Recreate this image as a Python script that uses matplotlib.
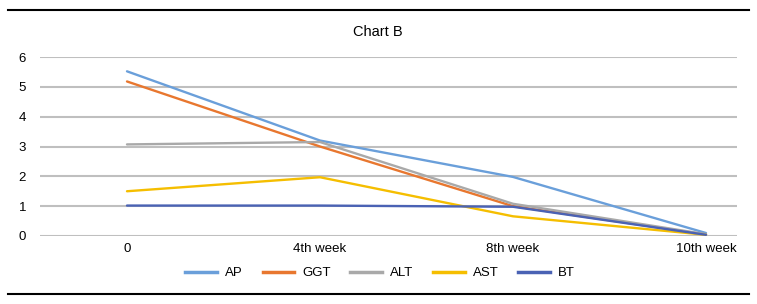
import matplotlib
matplotlib.use("Agg")
import matplotlib.pyplot as plt
from matplotlib.lines import Line2D

categories = ["0", "4th week", "8th week", "10th week"]
AP = [5.52, 3.2, 1.98, 0.1]
GGT = [5.18, 3.0, 1.0, 0.05]
ALT = [3.07, 3.15, 1.08, 0.06]
AST = [1.5, 1.97, 0.66, 0.04]
BT = [1.02, 1.02, 0.98, 0.04]
series_names = ["AP", "GGT", "ALT", "AST", "BT"]
colors = ["#6A9FDA", "#E8772F", "#A9A9A9", "#F5BE00", "#4A62B4"]

plt.rcParams['font.family'] = ['Liberation Sans Narrow', 'Liberation Sans', 'DejaVu Sans']

fig = plt.figure(figsize=(7.57, 3.04), dpi=100)
ax = fig.add_axes([40/757, 1-236/304, 697/757, (236-57)/304])

x = list(range(len(categories)))
for name, vals, c in zip(series_names, [AP, GGT, ALT, AST, BT], colors):
    ax.plot(x, vals, color=c, lw=1.7, label=name, solid_capstyle='round')

ax.set_ylim(0, 6)
ax.set_xlim(-87/193, 3 + 31/193)
ax.set_yticks(range(0, 7))
ax.set_xticks(x)
ax.set_xticklabels(categories)
ax.yaxis.grid(True, color="#BFBFBF", lw=1.5)
ax.set_axisbelow(True)
for s in ax.spines.values():
    s.set_visible(False)
ax.tick_params(axis='both', length=0, labelsize=9.5, colors="#000000")
ax.tick_params(axis='y', pad=10)
ax.tick_params(axis='x', pad=5)

fig.text(378/757, 1-32/304, "Chart B", ha='center', va='center', fontsize=10.5)

handles = [Line2D([0], [0], color=c, lw=2.5) for c in colors]
fig.legend(handles, series_names, loc='center', bbox_to_anchor=(380/757, 1-273/304),
           ncol=5, frameon=False, fontsize=9.5, handlelength=2.4, columnspacing=1.5,
           handletextpad=0.6)

fig.add_artist(Line2D([8/757, 749/757], [1-10/304, 1-10/304], color='black', lw=1.5,
                      transform=fig.transFigure))
fig.add_artist(Line2D([8/757, 749/757], [1-294/304, 1-294/304], color='black', lw=1.5,
                      transform=fig.transFigure))

fig.savefig("out.png", dpi=100)
